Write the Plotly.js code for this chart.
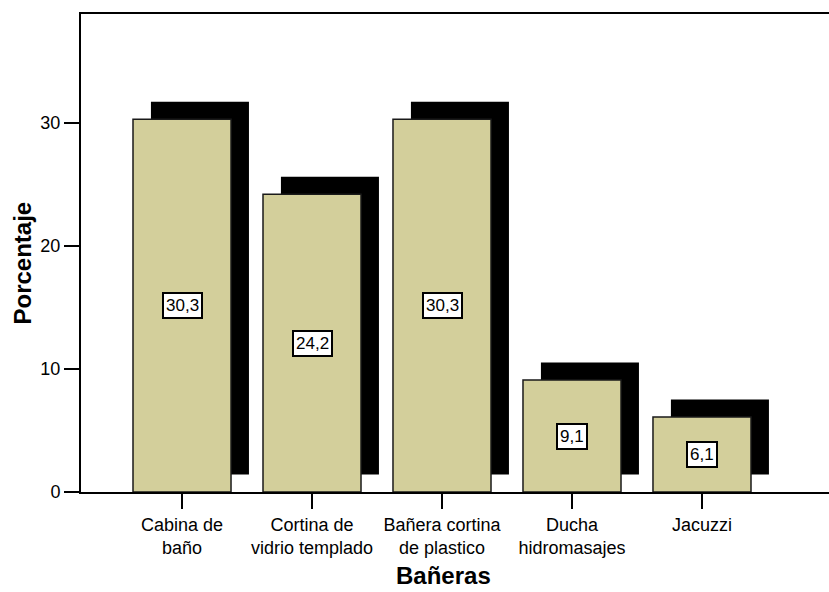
<!DOCTYPE html>
<html>
<head>
<meta charset="utf-8">
<script src="https://cdn.plot.ly/plotly-3.0.1.min.js"></script>
<style>
  html, body { margin: 0; padding: 0; background: #fff; }
  #chart { width: 829px; height: 592px; }
</style>
</head>
<body>
<div id="chart"></div>
<script>
// Bañeras: percentage of respondents per bath type
const categories = ["Cabina de baño", "Cortina de vidrio templado", "Bañera cortina de plastico", "Ducha hidromasajes", "Jacuzzi"];
const tickLabels = ["Cabina de<br>baño", "Cortina de<br>vidrio templado", "Bañera cortina<br>de plastico", "Ducha<br>hidromasajes", "Jacuzzi"];
const percentages = [30.3, 24.2, 30.3, 9.1, 6.1];
const yTicks = [0, 10, 20, 30];
const xTitle = "Bañeras";
const yTitle = "Porcentaje";

const barWidth = 0.754;
const shadowDx = 0.138;   // drop shadow shift, in category units
const shadowDy = 1.42;    // drop shadow lift, in percent units
const font = "Liberation Sans, Arial, sans-serif";

const shadow = {
  type: "bar",
  x: categories,
  y: percentages,
  base: percentages.map(() => shadowDy),
  width: barWidth,
  offset: -barWidth / 2 + shadowDx,
  marker: { color: "#000000", line: { width: 0 } },
  hoverinfo: "skip",
  showlegend: false
};

const bars = {
  type: "bar",
  x: categories,
  y: percentages,
  width: barWidth,
  offset: -barWidth / 2,
  marker: { color: "#d3cf9b", line: { color: "#1a1a1a", width: 1.5 } },
  showlegend: false
};

const valueLabels = categories.map((c, i) => ({
  x: c,
  y: percentages[i] / 2,
  xref: "x",
  yref: "y",
  text: percentages[i].toFixed(1).replace(".", ","),
  showarrow: false,
  font: { family: font, size: 17, color: "#000" },
  bgcolor: "#ffffff",
  bordercolor: "#000000",
  borderwidth: 2,
  borderpad: 2
}));

const titles = [
  {
    text: xTitle,
    xref: "paper", yref: "paper",
    x: 0.485, y: 0,
    xanchor: "center", yanchor: "bottom",
    yshift: -98,
    borderpad: 0,
    showarrow: false,
    font: { family: font, size: 24, color: "#000", weight: "bold" }
  },
  {
    text: yTitle,
    xref: "paper", yref: "paper",
    x: 0, y: 0.478,
    xanchor: "center", yanchor: "middle",
    xshift: -58,
    textangle: -90,
    showarrow: false,
    font: { family: font, size: 24, color: "#000", weight: "bold" }
  }
];

const layout = {
  width: 829,
  height: 592,
  margin: { l: 81, r: 0, t: 14, b: 100 },
  paper_bgcolor: "#ffffff",
  plot_bgcolor: "#ffffff",
  barmode: "overlay",
  font: { family: font, color: "#000" },
  xaxis: {
    type: "category",
    range: [-0.777, 4.977],
    tickmode: "array",
    tickvals: categories,
    ticktext: tickLabels,
    ticks: "outside",
    ticklen: 15,
    tickwidth: 2,
    tickcolor: "#000",
    tickfont: { family: font, size: 18, color: "#000" },
    showline: true,
    mirror: true,
    linecolor: "#000",
    linewidth: 2,
    showgrid: false,
    zeroline: false
  },
  yaxis: {
    range: [0, 38.86],
    tickmode: "array",
    tickvals: yTicks,
    ticks: "outside",
    ticklen: 15,
    tickwidth: 2,
    tickcolor: "#000",
    tickfont: { family: font, size: 18, color: "#000" },
    showline: true,
    linecolor: "#000",
    linewidth: 2,
    showgrid: false,
    zeroline: false
  },
  annotations: valueLabels.concat(titles)
};

Plotly.newPlot("chart", [shadow, bars], layout, { displayModeBar: false, staticPlot: true });
</script>
</body>
</html>
